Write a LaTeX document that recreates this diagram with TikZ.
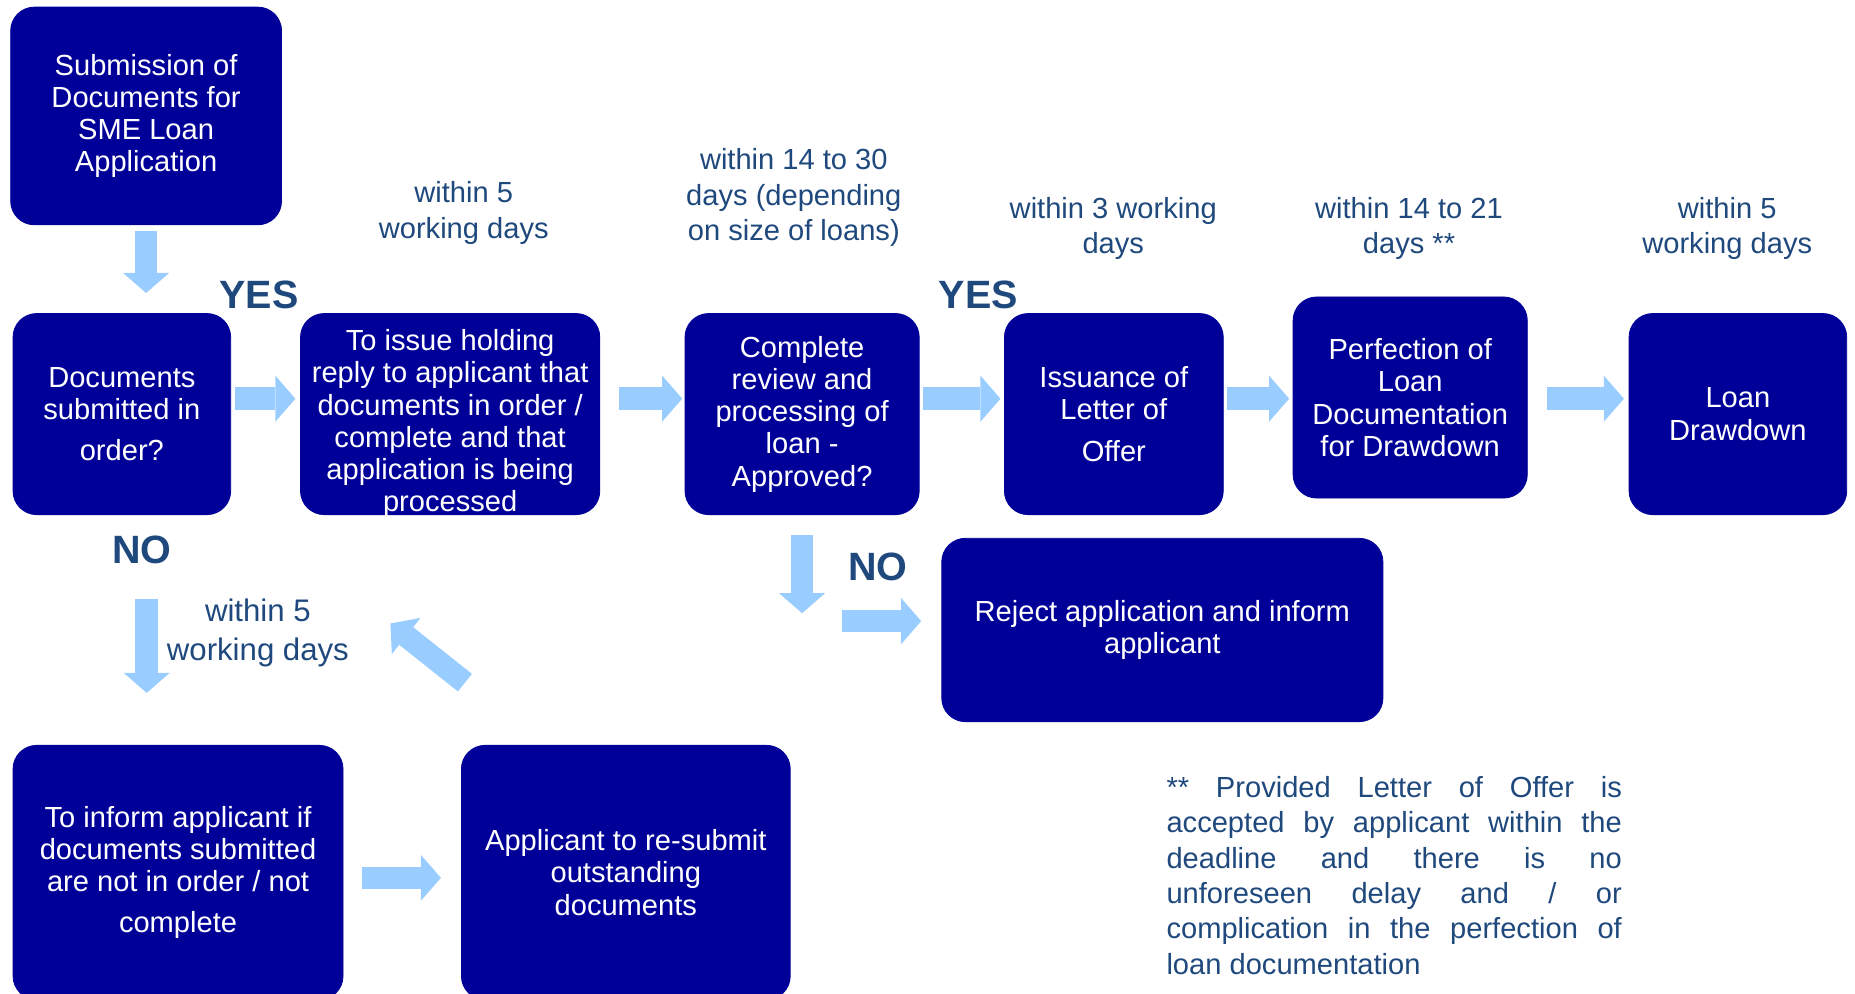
\documentclass[tikz,border=0pt]{standalone}
\usepackage{fontspec}
\setmainfont{Liberation Sans}
\usetikzlibrary{arrows.meta,positioning}
\tolerance=10000
\hbadness=10000
\definecolor{boxnavy}{RGB}{0,0,153}
\definecolor{labelblue}{RGB}{31,73,125}
\definecolor{arrowblue}{RGB}{153,204,255}
\tikzset{
	box/.style       = {draw=boxnavy, fill=boxnavy, rounded corners=0.4cm, text=white,
		align=center, inner sep=2pt, font=\fontsize{14}{15.5}\selectfont},
	timing/.style    = {text=labelblue, align=center, font=\fontsize{14}{17}\selectfont},
	answer/.style    = {text=labelblue, font=\fontsize{19}{21}\selectfont\bfseries},
	note/.style      = {text=labelblue, text width=7.7cm, align=justify, inner sep=0pt,
		font=\fontsize{14}{17}\selectfont},
	blockarrow/.style = {draw=arrowblue, line width=0.38cm,
		-{Triangle[width=0.78cm, length=0.34cm, line width=0pt]}}
}

\begin{document}
\begin{tikzpicture}[x=0.02cm, y=-0.02cm]
	\useasboundingbox (0,0) rectangle (1568,840);
	\clip (0,0) rectangle (1568,840);

	\draw
	node at (123.5,98)    [box, minimum width=4.58cm, minimum height=3.68cm] (sub) {Submission of\\Documents for\\SME Loan\\Application}
	node at (103,350)     [box, minimum width=3.68cm, minimum height=3.4cm] (chk) {Documents\\submitted in\\[4.5pt]order?}
	node at (380.5,350)   [box, minimum width=5.06cm, minimum height=3.4cm, inner ysep=1pt, text height=94pt, text depth=0pt] (hold) {To issue holding\\reply to applicant that\\documents in order /\\complete and that\\application is being\\processed}
	node at (678,350)     [box, minimum width=3.96cm, minimum height=3.4cm] (rev) {Complete\\review and\\processing of\\loan -\\Approved?}
	node at (941.5,350)   [box, minimum width=3.7cm, minimum height=3.4cm] (offer) {Issuance of\\Letter of\\[4.5pt]Offer}
	node at (1192,336)    [box, minimum width=3.96cm, minimum height=3.4cm] (perf) {Perfection of\\Loan\\Documentation\\for Drawdown}
	node at (1469,350)    [box, minimum width=3.68cm, minimum height=3.4cm] (dd) {Loan\\Drawdown}
	node at (150.5,737.5) [box, minimum width=5.58cm, minimum height=4.3cm] (inf) {To inform applicant if\\documents submitted\\are not in order / not\\[4pt]complete}
	node at (529,737.5)   [box, minimum width=5.56cm, minimum height=4.3cm] (resub) {Applicant to re-submit\\outstanding\\documents}
	node at (982.5,532.5) [box, minimum width=7.46cm, minimum height=3.1cm] (rej) {Reject application and inform\\applicant};

	\draw
	node at (219,249)  [answer] (yes1) {YES}
	node at (827,249)  [answer] (yes2) {YES}
	node at (120,465)  [answer] (no1) {NO}
	node at (742,479)  [answer] (no2) {NO}
	node at (392,180)  [timing] (t1) {within 5\\working days}
	node at (671,167)  [timing] (t2) {within 14 to 30\\days (depending\\on size of loans)}
	node at (941,193)  [timing] (t3) {within 3 working\\days}
	node at (1191,193) [timing] (t4) {within 14 to 21\\days **}
	node at (1460,193) [timing] (t5) {within 5\\working days}
	node at (218,535)  [timing, font=\fontsize{15}{19}\selectfont] (t6) {within 5\\working days}
	node at (1178.5,740) [note] (fn) {** Provided Letter of Offer is\linebreak accepted by applicant within the\linebreak deadline and there is no\linebreak unforeseen delay and / or\linebreak complication in the perfection of\linebreak loan documentation};

	% main row
	\coordinate (row) at (0,337);
	\draw[blockarrow, shorten <=0.1cm, shorten >=0.34cm] (sub.south) -- (sub.south |- chk.north);
	\draw[blockarrow, shorten <=0.06cm, shorten >=0.08cm] (chk.east |- row) -- (hold.west |- row);
	\draw[blockarrow, shorten <=0.32cm, shorten >=0.04cm] (hold.east |- row) -- (rev.west |- row);
	\draw[blockarrow, shorten <=0.06cm, shorten >=0.06cm] (rev.east |- row) -- (offer.west |- row);
	\draw[blockarrow, shorten <=0.06cm, shorten >=0.06cm] (offer.east |- row) -- (perf.west |- row);
	\draw[blockarrow, shorten <=0.32cm, shorten >=0.08cm] (perf.east |- row) -- (dd.west |- row);

	% NO branches
	\coordinate (nocol) at (124,0);
	\coordinate (row2) at (0,742);
	\coordinate (backtail) at (393,577);
	\coordinate (back) at (330,527);
	\coordinate (rejrow) at (712,525);
	\draw[blockarrow, shorten <=1.42cm, shorten >=0.88cm] (chk.south -| nocol) -- (inf.north -| nocol);
	\draw[blockarrow, shorten <=0.32cm, shorten >=0.34cm] (inf.east |- row2) -- (resub.west |- row2);
	\draw[blockarrow] (backtail) -- (back);
	\draw[blockarrow, shorten <=0.34cm] (rev.south) -- ++(0,83);
	\draw[blockarrow, shorten >=0.34cm] (rejrow) -- (rejrow -| rej.west);
\end{tikzpicture}
\end{document}
